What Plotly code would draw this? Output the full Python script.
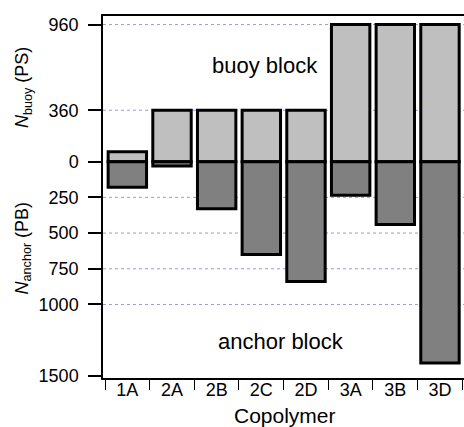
import plotly.graph_objects as go

categories = ["1A", "2A", "2B", "2C", "2D", "3A", "3B", "3D"]
buoy_ps = [70, 360, 360, 360, 360, 960, 960, 960]
anchor_pb = [180, 30, 330, 650, 840, 235, 440, 1410]
ytick_vals = [960, 360, 0, -250, -500, -750, -1000, -1500]
ytick_text = ["960", "360", "0", "250", "500", "750", "1000", "1500"]
grid_vals = [960, 360, -250, -500, -750, -1000]

FONT = "Liberation Sans, Arial, Helvetica, sans-serif"

fig = go.Figure()
fig.add_bar(
    x=categories, y=buoy_ps, width=0.86,
    marker=dict(color="#bfbfbf", line=dict(color="black", width=3)),
    name="buoy (PS)",
)
fig.add_bar(
    x=categories, y=[-v for v in anchor_pb], width=0.86,
    marker=dict(color="#808080", line=dict(color="black", width=3)),
    name="anchor (PB)",
)

shapes = []
for g in grid_vals:
    shapes.append(dict(
        type="line", xref="paper", x0=0, x1=1, yref="y", y0=g, y1=g,
        line=dict(color="#9a9ae0", width=1, dash="dot"), layer="below",
    ))

common = dict(xref="paper", yref="paper", showarrow=False,
              xanchor="center", yanchor="middle")
annotations = [
    dict(text="buoy block", x=0.449, y=0.862,
         font=dict(size=22, color="black", family=FONT), **common),
    dict(text="anchor block", x=0.494, y=0.102,
         font=dict(size=22, color="black", family=FONT), **common),
    dict(text="<i>N</i><sub>buoy</sub> (PS)", x=0, y=0.801, xshift=-80,
         textangle=-90, font=dict(size=18, color="black", family=FONT), **common),
    dict(text="<i>N</i><sub>anchor</sub> (PB)", x=0, y=0.358, xshift=-80,
         textangle=-90, font=dict(size=18, color="black", family=FONT), **common),
    dict(text="Copolymer", x=0.504, y=0, yshift=-37,
         font=dict(size=21, color="black", family=FONT), **common),
]

fig.update_layout(
    width=464, height=427,
    margin=dict(l=103, r=0, t=16, b=49),
    paper_bgcolor="white", plot_bgcolor="white",
    barmode="relative", showlegend=False,
    shapes=shapes, annotations=annotations,
    font=dict(family=FONT, color="black"),
    xaxis=dict(
        type="category", range=[-0.545, 7.538],
        showline=True, mirror=True, linecolor="black", linewidth=1.5,
        ticks="outside", tickson="boundaries", ticklen=10, tickwidth=1.2,
        tickcolor="black", showgrid=False, ticklabelstandoff=-5,
        tickfont=dict(size=18, color="black", family=FONT),
    ),
    yaxis=dict(
        range=[-1515, 1020],
        tickvals=ytick_vals, ticktext=ytick_text,
        showline=True, linecolor="black", linewidth=1.5,
        ticks="outside", ticklen=13, tickwidth=1.5, tickcolor="black",
        ticklabelstandoff=6,
        showgrid=False, zeroline=False,
        tickfont=dict(size=18, color="black", family=FONT),
    ),
)

fig.write_html("out.html")
